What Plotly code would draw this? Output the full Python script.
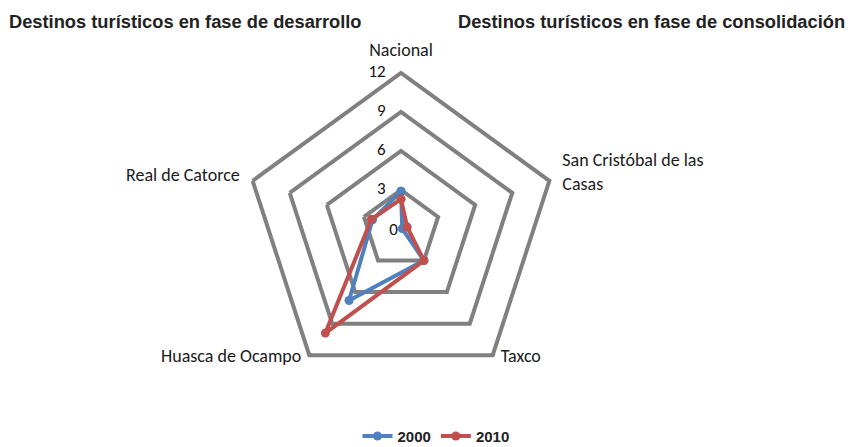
import plotly.graph_objects as go

categories = ["Nacional", "San Cristóbal de las<br>Casas", "Taxco", "Huasca de Ocampo", "Real de Catorce"]
values_2000 = [2.9, 0.1, 3.0, 6.8, 2.3]
values_2010 = [2.3, 0.5, 3.0, 9.9, 2.4]
radial_ticks = [0, 3, 6, 9, 12]
title_left = "Destinos turísticos en fase de desarrollo"
title_right = "Destinos turísticos en fase de consolidación"

def closed(v):
    return list(v) + [v[0]]

# bottom labels get trailing blank lines so Plotly lifts them beside their vertex
pad_lines = "<br>\u00a0" * 10
tick_text = [c + pad_lines if c in ("Taxco", "Huasca de Ocampo") else c for c in categories]

fig = go.Figure()
fig.add_trace(go.Scatterpolar(
    r=closed(values_2000), theta=closed(categories), name="2000",
    mode="lines+markers", line=dict(color="#4F81BD", width=4),
    marker=dict(size=9, color="#4F81BD")))
fig.add_trace(go.Scatterpolar(
    r=closed(values_2010), theta=closed(categories), name="2010",
    mode="lines+markers", line=dict(color="#C0504D", width=4),
    marker=dict(size=9, color="#C0504D")))
# radial tick labels above zero, placed through the polar scale on the Nacional spoke
upper_ticks = [t for t in radial_ticks if t > 0]
fig.add_trace(go.Scatterpolar(
    r=upper_ticks, theta=[categories[0]] * len(upper_ticks),
    mode="text", text=[str(v) + "\u00a0" * 4 for v in upper_ticks],
    textposition="middle left", cliponaxis=False,
    textfont=dict(size=17, color="#111", family="Carlito, Calibri, sans-serif"),
    showlegend=False, hoverinfo="skip"))

W, H = 856, 447
cx, cy, R = 393.0, 221.0, 156
fig.update_layout(
    width=W, height=H,
    margin=dict(l=0, r=0, t=0, b=0),
    paper_bgcolor="white", plot_bgcolor="white",
    font=dict(family="Carlito, Calibri, Liberation Sans, sans-serif", size=13, color="#222"),
    polar=dict(
        domain=dict(x=[(cx - R) / W, (cx + R) / W], y=[1 - (cy + R) / H, 1 - (cy - R) / H]),
        gridshape="linear",
        bgcolor="white",
        radialaxis=dict(range=[0, 12], tickvals=radial_ticks,
                        ticktext=[str(t) if t == 0 else "" for t in radial_ticks],
                        angle=90, tickangle=90, side="counterclockwise",
                        showline=False, ticks="", gridcolor="#808080", gridwidth=4,
                        tickfont=dict(size=17, color="#111", family="Carlito, Calibri, sans-serif")),
        angularaxis=dict(direction="clockwise", rotation=90, showgrid=False,
                         categoryorder="array", categoryarray=categories,
                         tickvals=categories, ticktext=tick_text,
                         showline=True, linecolor="#808080", linewidth=4,
                         ticks="outside", ticklen=8, tickcolor="rgba(0,0,0,0)",
                         tickfont=dict(size=18, color="#1a1a1a")),
    ),
    legend=dict(orientation="h", x=0.5, xanchor="center", y=0.005, yanchor="bottom",
                font=dict(size=15, color="#222", family="Liberation Sans Narrow, Arial Narrow, Liberation Sans, sans-serif", weight="bold")),
    annotations=[
        dict(text="<b>" + title_left + "</b>", x=-1 / W, y=1 - 1 / H, xref="paper", yref="paper",
             xanchor="left", yanchor="top", showarrow=False,
             font=dict(size=18.3, color="#222", family="Liberation Sans Narrow, Arial Narrow, sans-serif")),
        dict(text="<b>" + title_right + "</b>", x=448 / W, y=1 - 1 / H, xref="paper", yref="paper",
             xanchor="left", yanchor="top", showarrow=False,
             font=dict(size=18.3, color="#222", family="Liberation Sans Narrow, Arial Narrow, sans-serif")),
    ],
)
fig.write_html("out.html")
